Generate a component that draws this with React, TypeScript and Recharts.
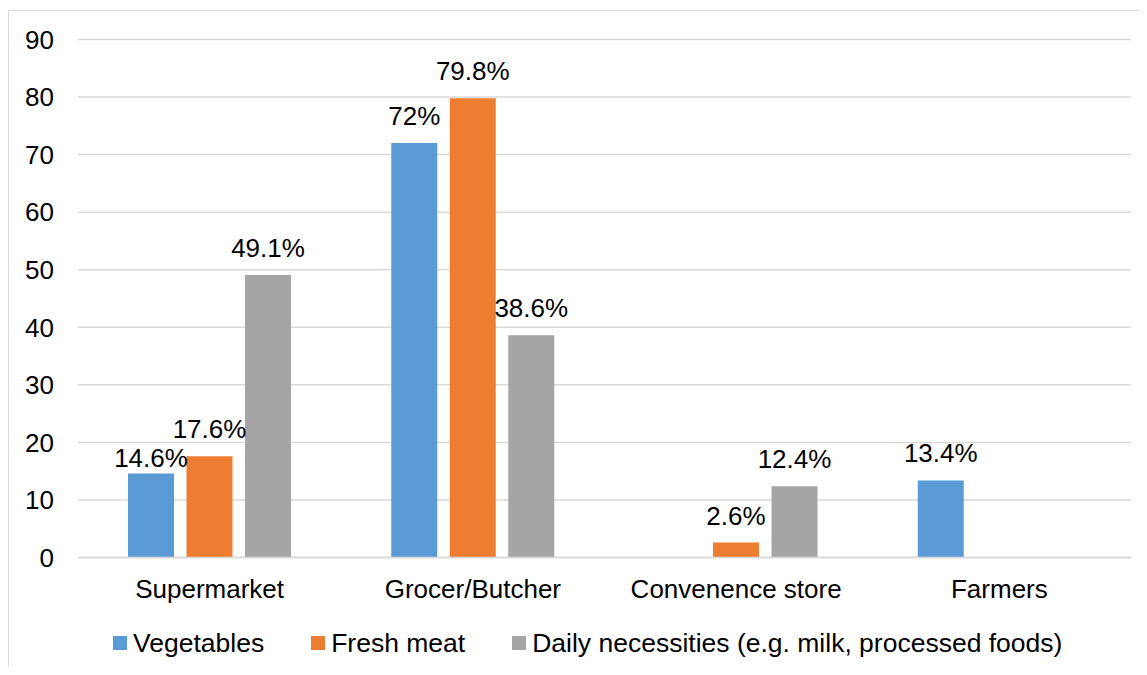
import React from 'react';
import {
  BarChart, Bar, XAxis, YAxis, CartesianGrid, Legend, LabelList,
} from 'recharts';

const categories = ['Supermarket', 'Grocer/Butcher', 'Convenence store', 'Farmers'];
const vegetables = [14.6, 72, null, 13.4];
const freshMeat = [17.6, 79.8, 2.6, null];
const dailyNecessities = [49.1, 38.6, 12.4, null];
const yTicks = [0, 10, 20, 30, 40, 50, 60, 70, 80, 90];

const FONT = '"Liberation Sans", Arial, sans-serif';
const GRID = '#d9d9d9';

const series = [
  { key: 'vegetables', name: 'Vegetables', color: '#5b9bd5' },
  { key: 'freshMeat', name: 'Fresh meat', color: '#ed7d31' },
  { key: 'daily', name: 'Daily necessities (e.g. milk, processed foods)', color: '#a5a5a5' },
];

const data = categories.map((name, i) => ({
  name,
  vegetables: vegetables[i],
  freshMeat: freshMeat[i],
  daily: dailyNecessities[i],
}));

// labels that sit lower than the others (moved down to clear the neighbour)
const labelDrop: Record<string, number> = { 'vegetables:0': 12 };

const makeLabel = (seriesKey: string) => (props: any) => {
  const { x, y, width, value, index } = props;
  if (value == null) return null;
  const drop = labelDrop[`${seriesKey}:${index}`] || 0;
  return (
    <text
      x={Number(x) + Number(width) / 2}
      y={Number(y) - 18 + drop}
      textAnchor="middle"
      fontFamily={FONT}
      fontSize={26}
      fill="#000"
    >
      {`${value}%`}
    </text>
  );
};

const LegendContent = () => (
  <div style={{
    display: 'flex', alignItems: 'center', height: 36, paddingLeft: 104,
    fontFamily: FONT, fontSize: 26.5, color: '#000',
  }}>
    {series.map((s) => (
      <div key={s.key} style={{ display: 'flex', alignItems: 'center', marginRight: 47 }}>
        <span style={{ width: 14, height: 14, background: s.color, marginRight: 6, display: 'inline-block' }} />
        <span style={{ whiteSpace: 'nowrap' }}>{s.name}</span>
      </div>
    ))}
  </div>
);

export default function App() {
  return (
    <div style={{
      marginTop: 2, width: 1135, height: 657, boxSizing: 'border-box',
      borderLeft: `1px solid ${GRID}`, borderTop: `1px solid ${GRID}`, overflow: 'hidden',
    }}>
      <BarChart
        width={1130}
        height={650}
        data={data}
        margin={{ top: 28.5, right: 8, left: 0, bottom: 0 }}
        barCategoryGap={50}
        barGap={12.5}
      >
        <CartesianGrid vertical={false} stroke={GRID} strokeWidth={1.5} />
        <XAxis
          dataKey="name"
          height={67.5}
          axisLine={{ stroke: GRID, strokeWidth: 1.5 }}
          tickLine={false}
          tickSize={0}
          tickMargin={22}
          tick={{ fontFamily: FONT, fontSize: 26, fill: '#000' }}
        />
        <YAxis
          width={69}
          domain={[0, 90]}
          ticks={yTicks}
          axisLine={false}
          tickLine={false}
          tickSize={0}
          tickMargin={24}
          tick={{ fontFamily: FONT, fontSize: 26, fill: '#000' }}
        />
        <Legend
          verticalAlign="bottom"
          content={<LegendContent />}
          wrapperStyle={{ left: 0, width: 1130 }}
        />
        {series.map((s) => (
          <Bar key={s.key} dataKey={s.key} name={s.name} fill={s.color} isAnimationActive={false}>
            <LabelList dataKey={s.key} content={makeLabel(s.key)} />
          </Bar>
        ))}
      </BarChart>
    </div>
  );
}
